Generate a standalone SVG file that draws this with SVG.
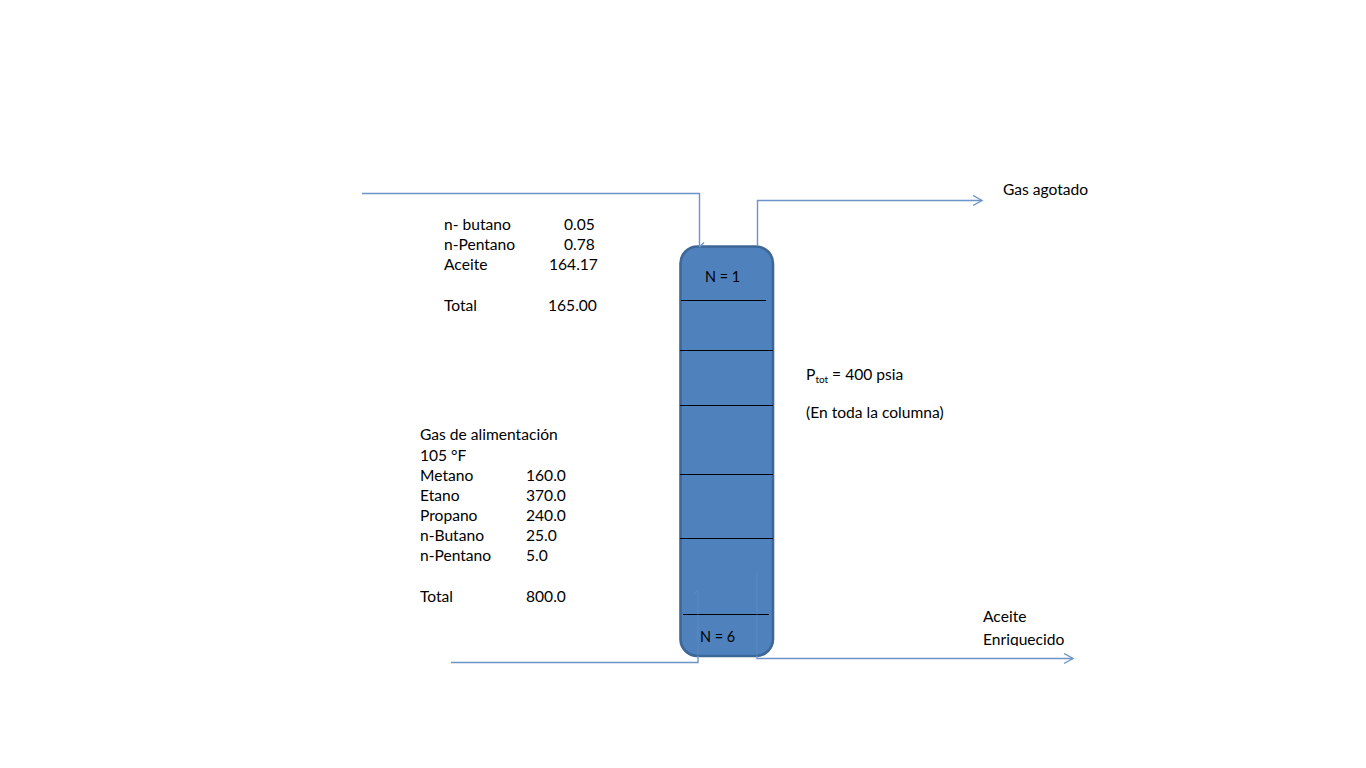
<svg xmlns="http://www.w3.org/2000/svg" width="1366" height="768" viewBox="0 0 1366 768">
<style>
text{font-family:Lato,"Liberation Sans",sans-serif;font-size:15.6px;fill:#000}
text.n{font-size:14.4px}
.flow{fill:none;stroke:#6b95c8;stroke-width:1.4}
.faint{fill:none;stroke:#6b95c8;stroke-width:1.2;opacity:.35}
.tray{stroke:#000;stroke-width:1.1}
</style>
<defs>
<marker id="open" markerUnits="userSpaceOnUse" markerWidth="14" markerHeight="14" refX="10" refY="6" orient="auto"><path d="M1 1L10 6L1 11" fill="none" stroke="#6b95c8" stroke-width="1.4"/></marker>
<clipPath id="clip"><rect x="975" y="605" width="120" height="41"/></clipPath>
</defs>
<rect width="1366" height="768" fill="#fff"/>
<g id="column">
<rect x="680.500" y="246.500" width="92.500" height="409.500" rx="17" fill="#4f81bd" stroke="#3d6797" stroke-width="2.600"/>
<line class="tray" x1="681" y1="300.500" x2="766" y2="300.500"/>
<line class="tray" x1="680" y1="350.500" x2="773" y2="350.500"/>
<line class="tray" x1="680" y1="405.500" x2="773" y2="405.500"/>
<line class="tray" x1="680" y1="474.500" x2="773" y2="474.500"/>
<line class="tray" x1="680" y1="538.500" x2="773" y2="538.500"/>
<line class="tray" x1="683" y1="614.500" x2="769" y2="614.500"/>
<text class="n" x="705" y="282">N = 1</text>
<text class="n" x="700" y="642">N = 6</text>
</g>
<g id="connectors">
<path class="flow" d="M362 193.500H699.500V247M699.500 247L704 242.500"/>
<path class="flow" d="M757.500 246V200.500H982" marker-end="url(#open)"/>
<path class="flow" d="M451 662.500H698V656"/>
<path class="faint" d="M698 656V590M698 590L694 594"/>
<path class="faint" d="M757 656V570"/>
<path class="flow" d="M757 656V658.500H1073" marker-end="url(#open)"/>
</g>
<g id="label-solvent">
<text x="444" y="230">n- butano</text><text x="564" y="230">0.05</text>
<text x="444" y="250">n-Pentano</text><text x="564" y="250">0.78</text>
<text x="444" y="270">Aceite</text><text x="549" y="270">164.17</text>
<text x="444" y="311">Total</text><text x="548" y="311">165.00</text>
</g>
<g id="label-feed">
<text x="420" y="440">Gas de alimentación</text>
<text x="420" y="461">105 °F</text>
<text x="420" y="481">Metano</text><text x="526" y="481">160.0</text>
<text x="420" y="501">Etano</text><text x="526" y="501">370.0</text>
<text x="420" y="521">Propano</text><text x="526" y="521">240.0</text>
<text x="420" y="541">n-Butano</text><text x="526" y="541">25.0</text>
<text x="420" y="561">n-Pentano</text><text x="526" y="561">5.0</text>
<text x="420" y="602">Total</text><text x="526" y="602">800.0</text>
</g>
<g id="label-pressure">
<text x="806" y="380">P<tspan font-size="10" dy="3">tot</tspan><tspan dy="-3"> = 400 psia</tspan></text>
<text x="806" y="418">(En toda la columna)</text>
</g>
<g id="label-gas"><text x="1003" y="195">Gas agotado</text></g>
<g id="label-oil" clip-path="url(#clip)">
<text x="983" y="622">Aceite</text>
<text x="983" y="645">Enriquecido</text>
</g>
</svg>
